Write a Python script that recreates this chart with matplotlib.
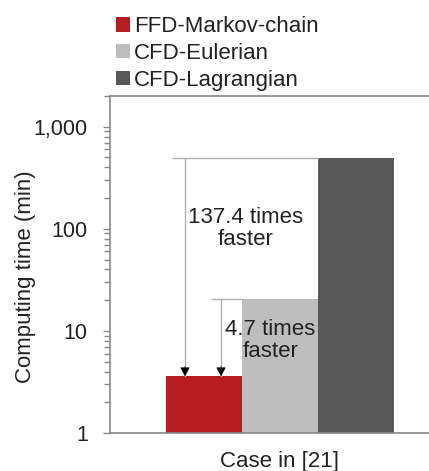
import matplotlib
matplotlib.use("Agg")
import matplotlib.pyplot as plt
import numpy as np

plt.rcParams['font.family'] = ['Liberation Sans', 'DejaVu Sans']

methods = ['FFD-Markov-chain', 'CFD-Eulerian', 'CFD-Lagrangian']
times = [3.6, 20.5, 495]          # computing time (min)
colors = ['#b71c20', '#bdbdbd', '#575757']
case_label = 'Case in [21]'
speedups = ['137.4', '4.7']

fs = 16
txt_c = '#222222'

fig = plt.figure(figsize=(4.29, 4.71), dpi=100)
ax = fig.add_axes([0.2564, 0.0807, 0.7436, 0.7155])

x = np.array([-1, 0, 1])
bars = ax.bar(x, times, width=1.0, color=colors, label=methods, zorder=2)

ax.set_yscale('log')
ax.set_ylim(1, 2000)
ax.set_xlim(-2.237, 1.96)
ax.set_yticks([1, 10, 100, 1000])
ax.set_yticklabels(['1', '10', '100', '1,000'])
ax.set_xticks([])
ax.set_xlabel(case_label, fontsize=fs, color=txt_c)
ax.set_ylabel('Computing time (min)', fontsize=fs, color=txt_c)
ax.xaxis.set_label_coords(0.53, -0.052)
ax.yaxis.set_label_coords(-0.232, 0.463)
ax.tick_params(axis='y', which='major', length=5, width=1, color='#888888',
               labelsize=15.5, labelcolor=txt_c, pad=11)
ax.tick_params(axis='y', which='minor', length=4, width=1, color='#888888')

for s in ['left', 'top', 'bottom']:
    ax.spines[s].set_color('#888888')
    ax.spines[s].set_linewidth(1.2)
ax.spines['right'].set_visible(False)

line_c = '#b0b0b0'
red_top = times[0]

# 137.4 times annotation (Lagrangian vs Markov)
xv1 = -1.25
ax.plot([-1.41, 0.5], [times[2], times[2]], color=line_c, lw=1, zorder=3)
ax.plot([xv1, xv1], [times[2], red_top], color=line_c, lw=1, zorder=3)
# 4.7 times annotation (Eulerian vs Markov)
xv2 = -0.776
ax.plot([-0.895, -0.5], [times[1], times[1]], color=line_c, lw=1, zorder=3)
ax.plot([xv2, xv2], [times[1], red_top], color=line_c, lw=1, zorder=3)

for xv in [xv1, xv2]:
    ax.annotate('', xy=(xv, red_top), xytext=(0, 7), textcoords='offset points',
                arrowprops=dict(arrowstyle='-|>,head_width=0.3,head_length=0.55',
                                color='black', lw=0.5, shrinkA=0, shrinkB=0),
                zorder=4)

ax.text(-0.45, 100, f'{speedups[0]} times\nfaster', ha='center', va='center',
        fontsize=fs, color=txt_c, linespacing=1.05, zorder=5)
ax.text(-0.13, 8.1, f'{speedups[1]} times\nfaster', ha='center', va='center',
        fontsize=fs, color=txt_c, linespacing=1.05, zorder=5)

fig.legend(handles=bars.patches, labels=methods, loc='upper left',
           bbox_to_anchor=(0.27, 0.965), frameon=False, fontsize=fs,
           handlelength=0.62, handleheight=0.62, handletextpad=0.2,
           labelspacing=0.25, borderpad=0, borderaxespad=0, labelcolor=txt_c)

fig.savefig('out.png', dpi=100)
